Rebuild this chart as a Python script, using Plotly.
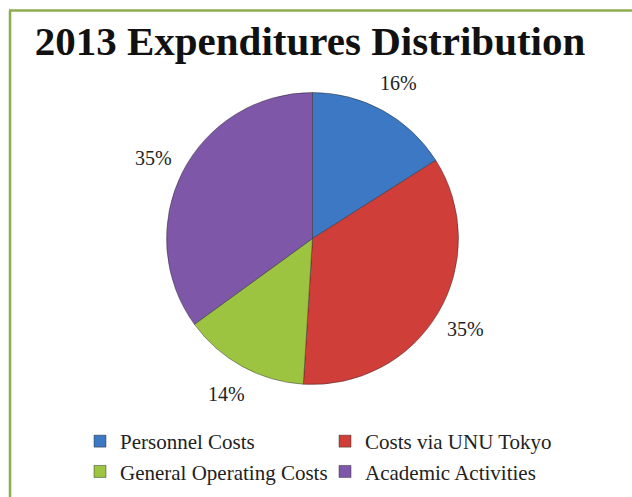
import math
import plotly.graph_objects as go

categories = ["Personnel Costs", "Costs via UNU Tokyo", "General Operating Costs", "Academic Activities"]
values = [16, 35, 14, 35]
colors = ["#3C78C4", "#CF3E38", "#9DC440", "#7E57A9"]
title_text = "2013 Expenditures Distribution"

W, H = 632, 497
cx, cy, r = 312.5, 238.5, 146
label_r = 178

fig = go.Figure(go.Pie(
    labels=categories,
    values=values,
    sort=False,
    direction="clockwise",
    rotation=0,
    marker=dict(colors=colors, line=dict(color="rgba(40,40,40,0.45)", width=1)),
    textinfo="none",
    domain=dict(x=[(cx - r) / W, (cx + r) / W], y=[1 - (cy + r) / H, 1 - (cy - r) / H]),
    showlegend=True,
    hoverinfo="label+percent",
))

# percentage labels placed outside each slice at its mid-angle
total = sum(values)
annotations = []
acc = 0
for v in values:
    mid = (acc + v / 2) / total * 2 * math.pi
    acc += v
    px = cx + label_r * math.sin(mid)
    py = cy - label_r * math.cos(mid)
    annotations.append(dict(
        text=f"{round(v / total * 100)}%", xref="paper", yref="paper",
        x=px / W, y=1 - py / H, xanchor="center", yanchor="middle", showarrow=False,
        font=dict(family="Liberation Serif", size=20, color="#222222")))

border = "#8CAD4E"
fig.update_layout(
    width=W, height=H,
    margin=dict(l=0, r=0, t=0, b=0, autoexpand=False),
    paper_bgcolor="white",
    title=dict(text="<b>" + title_text + "</b>", x=310 / W, xanchor="center",
               y=1 - 41 / H, yanchor="middle",
               font=dict(family="Liberation Serif", size=41, color="#111111")),
    legend=dict(orientation="h", x=80 / W, xanchor="left", y=1 - 421 / H, yanchor="top",
                entrywidth=200, entrywidthmode="pixels",
                font=dict(family="Liberation Serif", size=21, color="#222222"),
                itemwidth=30, traceorder="normal"),
    annotations=annotations,
    shapes=[
        dict(type="line", xref="paper", yref="paper", x0=9 / W, x1=1, y0=1 - 10.5 / H, y1=1 - 10.5 / H,
             line=dict(color=border, width=2.5)),
        dict(type="line", xref="paper", yref="paper", x0=10 / W, x1=10 / W, y0=0, y1=1 - 10.5 / H,
             line=dict(color=border, width=2.5)),
    ],
)

fig.write_html("out.html", config={"displayModeBar": False},
               post_script="document.body.style.margin='0';")
